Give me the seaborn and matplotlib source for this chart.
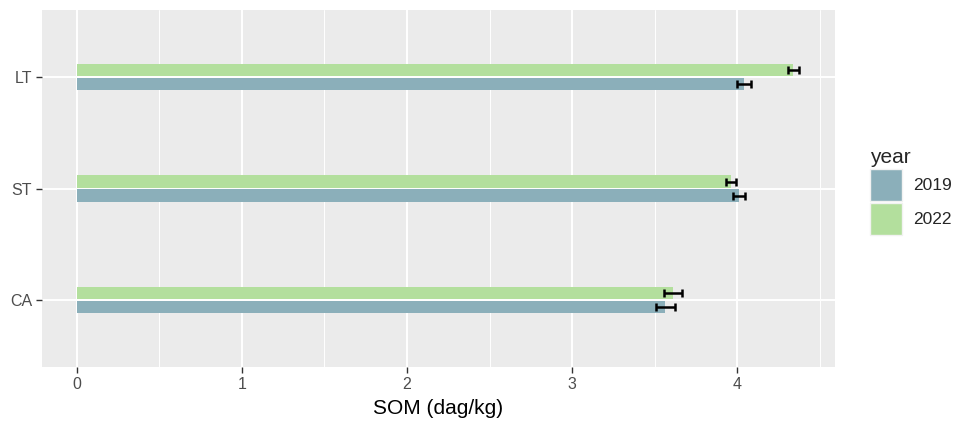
import pandas as pd
import numpy as np
import matplotlib.pyplot as plt
from matplotlib.patches import Patch
from matplotlib.ticker import MultipleLocator
import seaborn as sns

# data
systems = ['LT', 'ST', 'CA']
years = ['2019', '2022']
som_2019 = [4.04, 4.01, 3.565]
som_2022 = [4.34, 3.96, 3.61]
se_2019 = [0.04, 0.035, 0.06]
se_2022 = [0.035, 0.03, 0.055]

df = pd.DataFrame({
    'system': systems * 2,
    'year': ['2019'] * 3 + ['2022'] * 3,
    'SOM': som_2019 + som_2022,
    'se': se_2019 + se_2022,
})

colors = {'2019': '#8BAFBA', '2022': '#B3DF9D'}

sns.set_theme(style='darkgrid', rc={
    'axes.facecolor': '#EBEBEB',
    'grid.color': 'white',
})
plt.rcParams['font.family'] = ['Liberation Sans', 'DejaVu Sans']

fig = plt.figure(figsize=(9.54, 4.21), dpi=100)
ax = fig.add_axes([0.044, 0.128, 0.831, 0.848])

# 2022 drawn above 2019 inside each group
hue_order = ['2022', '2019']
sns.barplot(data=df, x='SOM', y='system', hue='year', order=systems,
            hue_order=hue_order, palette=colors, orient='h', saturation=1,
            width=0.25, gap=0.12, errorbar=None, legend=False,
            linewidth=0, ax=ax, zorder=3)

# error bars at the centre of each bar
for container, yr in zip(ax.containers, hue_order):
    sub = df[df['year'] == yr].set_index('system')
    for bar in container:
        yc = bar.get_y() + bar.get_height() / 2
        cat = systems[int(round(yc))]
        ax.errorbar(sub.loc[cat, 'SOM'], yc, xerr=sub.loc[cat, 'se'],
                    fmt='none', ecolor='black', elinewidth=1.8,
                    capsize=3, capthick=1.8, zorder=4)

ax.set_xlim(-0.21, 4.59)
ax.set_ylim(2.6, -0.6)
ax.xaxis.set_major_locator(MultipleLocator(1))
ax.xaxis.set_minor_locator(MultipleLocator(0.5))
ax.grid(which='major', color='white', linewidth=1.4)
ax.grid(which='minor', axis='x', color='white', linewidth=0.7)
ax.set_axisbelow(True)
for s in ax.spines.values():
    s.set_visible(False)

ax.tick_params(axis='both', which='major', length=4, width=1, color='#333333',
               labelsize=11.5, labelcolor='#4D4D4D', pad=3,
               bottom=True, left=True)
ax.tick_params(axis='both', which='minor', length=0)
ax.set_xlabel('SOM (dag/kg)', fontsize=15, color='black', labelpad=5)
ax.set_ylabel('')

handles = [Patch(facecolor=colors[y], edgecolor='#F2F2F2', linewidth=1) for y in years]
leg = fig.legend(handles, years, title='year', loc='center left',
                 bbox_to_anchor=(0.905, 0.545), frameon=False,
                 fontsize=12.5, title_fontsize=15, handlelength=1.85,
                 handleheight=2.45, labelspacing=0.1, handletextpad=0.6,
                 borderaxespad=0)
leg._legend_box.align = 'left'

fig.savefig('out.png', dpi=100)
